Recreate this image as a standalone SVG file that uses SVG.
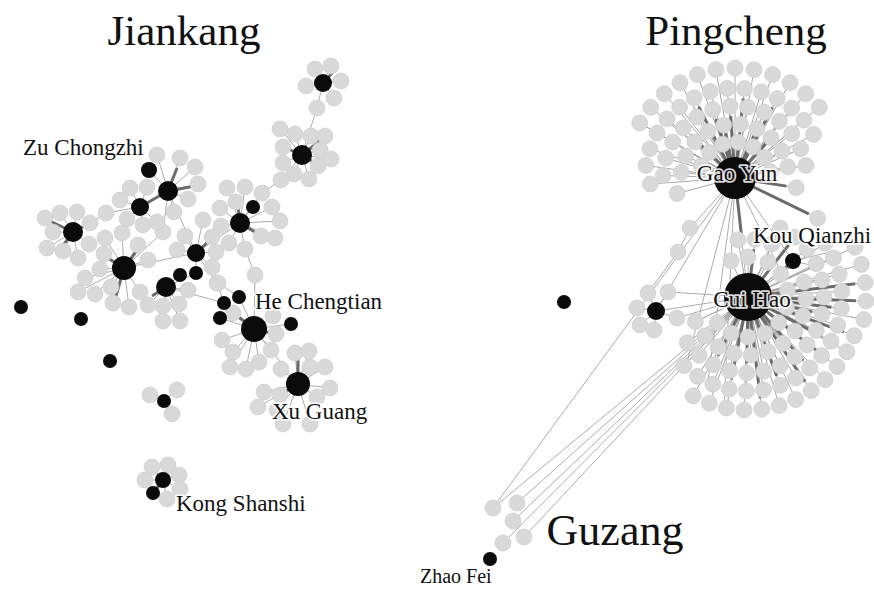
<svg xmlns="http://www.w3.org/2000/svg" width="874" height="589" viewBox="0 0 874 589">
<style>
.e{stroke:#a3a3a3;stroke-width:0.9;fill:none}
.t{stroke:#6b6b6b;stroke-width:3;fill:none}
.l{fill:#d9d9d9;stroke:#cdcdcd;stroke-width:0.6}
.h{fill:#0b0b0b}
.title{font-family:"Liberation Serif","Times New Roman",serif;fill:#111}
.lab{font-family:"Liberation Serif","Times New Roman",serif;font-size:23px;fill:#111;stroke:#fff;stroke-width:3.5;stroke-opacity:0.85;paint-order:stroke;stroke-linejoin:round}
</style>
<rect width="874" height="589" fill="#fff"/>

<g id="connectors">
 <path class="e" d="M323 83L315 69M323 83L331 66M323 83L341 81M323 83L334 98M323 83L306 86M323 83L317 108L302 155
 M302 155L280 129M302 155L295 134M302 155L311 136M302 155L325 136M302 155L320 150M302 155L331 159M302 155L318 166M302 155L309 179M302 155L294 174M302 155L283 163M302 155L283 147M302 155L281 180L262 193L240 223
 M240 223L227 188M240 223L245 187M240 223L272 207M240 223L280 221M240 223L275 238M240 223L261 236M240 223L245 249M240 223L229 243M240 223L221 226M240 223L220 208M240 223L236 202M240 223L253 207M245 249L255 275L254 329
 M168 191L180 158M168 191L195 167M168 191L198 184M168 191L188 199M168 191L174 212M168 191L157 155M149 170L168 191M168 191L163 232L124 268M168 191L196 253
 M140 207L147 187M140 207L130 188M140 207L120 200M140 207L127 219M140 207L143 225M140 207L157 222M140 207L106 213L90 223L73 232
 M73 232L45 218M73 232L60 213M73 232L77 212M73 232L53 232M73 232L47 248M73 232L63 251M73 232L89 244M73 232L78 258
 M124 268L105 238M124 268L122 233M124 268L138 245M124 268L104 254M124 268L100 269M124 268L85 278M124 268L78 292M124 268L95 294M124 268L111 287M124 268L113 303M124 268L129 307M124 268L140 292M124 268L148 260M124 268L196 253
 M166 287L148 305M166 287L163 306M166 287L179 304M166 287L163 321M166 287L180 321M166 287L188 290M166 287L180 275M166 287L196 273M166 287L224 303
 M196 253L203 220M196 253L185 236M196 253L177 250M196 253L212 237M196 253L216 252M196 253L212 267M196 253L217 283L224 303M196 253L240 223M196 253L196 273
 M254 329L233 313M254 329L222 340M254 329L233 352M254 329L230 367M254 329L246 369M254 329L259 362M254 329L271 350M254 329L276 334M254 329L273 316M224 303L254 329M239 297L254 329M220 318L254 329M254 329L291 324M254 329L298 384M218 283L239 297
 M298 384L281 369M298 384L264 392M298 384L280 395M298 384L277 410M298 384L310 367M298 384L325 367M298 384L330 388M298 384L317 397M298 384L295 353M298 384L309 351M298 384L258 407M298 384L283 424M298 384L310 424
 M164 401L150 395M164 401L177 390M164 401L172 414
 M163 480L152 467M163 480L168 465M163 480L179 475M163 480L145 480M163 480L180 489M163 480L167 499M163 480L153 493"/>
 <path class="t" d="M168 191L195 186M168 191L177 168M140 207L168 191M73 232L50 221M73 232L90 223M73 232L62 247M124 268L138 249M124 268L106 257M124 268L116 296M166 287L152 296M302 155L286 148M302 155L316 164M302 155L321 140M240 223L238 206M240 223L258 234M254 329L274 334M254 329L236 315M298 384L298 356M298 384L283 393M163 480L154 492M323 83L333 72M196 253L210 240"/>

 <g class="e" transform="translate(735,178)">
  <line x2="36" transform="rotate(-160)"/><line x2="36" transform="rotate(-135)"/><line x2="36" transform="rotate(-110)"/><line x2="36" transform="rotate(-85)"/><line x2="36" transform="rotate(-60)"/><line x2="36" transform="rotate(-35)"/><line x2="36" transform="rotate(-10)"/>
  <line x2="54" transform="rotate(-174)"/><line x2="54" transform="rotate(-156)"/><line x2="54" transform="rotate(-138)"/><line x2="54" transform="rotate(-120)"/><line x2="54" transform="rotate(-102)"/><line x2="54" transform="rotate(-84)"/><line x2="54" transform="rotate(-66)"/><line x2="54" transform="rotate(-48)"/><line x2="54" transform="rotate(-30)"/><line x2="54" transform="rotate(-12)"/>
  <line x2="72" transform="rotate(-178)"/><line x2="72" transform="rotate(-164)"/><line x2="72" transform="rotate(-150)"/><line x2="72" transform="rotate(-136)"/><line x2="72" transform="rotate(-122)"/><line x2="72" transform="rotate(-108)"/><line x2="72" transform="rotate(-94)"/><line x2="72" transform="rotate(-80)"/><line x2="72" transform="rotate(-66)"/><line x2="72" transform="rotate(-52)"/><line x2="72" transform="rotate(-38)"/><line x2="72" transform="rotate(-24)"/><line x2="72" transform="rotate(-10)"/>
  <line x2="90" transform="rotate(-172)"/><line x2="90" transform="rotate(-161)"/><line x2="90" transform="rotate(-150)"/><line x2="90" transform="rotate(-139)"/><line x2="90" transform="rotate(-128)"/><line x2="90" transform="rotate(-117)"/><line x2="90" transform="rotate(-106)"/><line x2="90" transform="rotate(-95)"/><line x2="90" transform="rotate(-84)"/><line x2="90" transform="rotate(-73)"/><line x2="90" transform="rotate(-62)"/><line x2="90" transform="rotate(-51)"/><line x2="90" transform="rotate(-40)"/><line x2="90" transform="rotate(-29)"/>
  <line x2="110" transform="rotate(-150)"/><line x2="110" transform="rotate(-140)"/><line x2="110" transform="rotate(-130)"/><line x2="110" transform="rotate(-120)"/><line x2="110" transform="rotate(-110)"/><line x2="110" transform="rotate(-100)"/><line x2="110" transform="rotate(-90)"/><line x2="110" transform="rotate(-80)"/><line x2="110" transform="rotate(-70)"/><line x2="110" transform="rotate(-60)"/><line x2="110" transform="rotate(-50)"/><line x2="110" transform="rotate(-40)"/>
  <line x2="60" transform="rotate(165)"/><line x2="85" transform="rotate(176)"/><line x2="62" transform="rotate(9)"/><line x2="92" transform="rotate(26)"/>
 </g>
 <g class="t" transform="translate(735,178)">
  <line x2="46" transform="rotate(-102)"/><line x2="62" transform="rotate(-108)"/><line x2="62" transform="rotate(-94)"/><line x2="80" transform="rotate(-84)"/><line x2="80" transform="rotate(-117)"/><line x2="80" transform="rotate(-62)"/><line x2="62" transform="rotate(-66)"/><line x2="62" transform="rotate(-136)"/><line x2="46" transform="rotate(-48)"/><line x2="82" transform="rotate(26)"/><line x2="52" transform="rotate(9)"/>
 </g>

 <g class="e" transform="translate(748,297)">
  <line x2="40" transform="rotate(-115)"/><line x2="40" transform="rotate(-90)"/><line x2="40" transform="rotate(-60)"/><line x2="40" transform="rotate(-35)"/><line x2="40" transform="rotate(-10)"/><line x2="40" transform="rotate(15)"/><line x2="40" transform="rotate(40)"/><line x2="40" transform="rotate(65)"/><line x2="40" transform="rotate(90)"/><line x2="40" transform="rotate(115)"/><line x2="40" transform="rotate(140)"/>
  <line x2="58" transform="rotate(-100)"/><line x2="58" transform="rotate(-83)"/><line x2="58" transform="rotate(-66)"/><line x2="58" transform="rotate(-15)"/><line x2="58" transform="rotate(2)"/><line x2="58" transform="rotate(19)"/><line x2="58" transform="rotate(36)"/><line x2="58" transform="rotate(53)"/><line x2="58" transform="rotate(70)"/><line x2="58" transform="rotate(87)"/><line x2="58" transform="rotate(104)"/><line x2="58" transform="rotate(121)"/><line x2="58" transform="rotate(138)"/><line x2="58" transform="rotate(155)"/>
  <line x2="76" transform="rotate(-65)"/><line x2="76" transform="rotate(-52)"/><line x2="76" transform="rotate(-39)"/><line x2="76" transform="rotate(-26)"/><line x2="76" transform="rotate(-13)"/><line x2="76" transform="rotate(0)"/><line x2="76" transform="rotate(13)"/><line x2="76" transform="rotate(26)"/><line x2="76" transform="rotate(39)"/><line x2="76" transform="rotate(52)"/><line x2="76" transform="rotate(65)"/><line x2="76" transform="rotate(78)"/><line x2="76" transform="rotate(91)"/><line x2="76" transform="rotate(104)"/><line x2="76" transform="rotate(117)"/><line x2="76" transform="rotate(130)"/><line x2="76" transform="rotate(143)"/>
  <line x2="94" transform="rotate(-35)"/><line x2="94" transform="rotate(-24.5)"/><line x2="94" transform="rotate(-14)"/><line x2="94" transform="rotate(-3.5)"/><line x2="94" transform="rotate(7)"/><line x2="94" transform="rotate(17.5)"/><line x2="94" transform="rotate(28)"/><line x2="94" transform="rotate(38.5)"/><line x2="94" transform="rotate(49)"/><line x2="94" transform="rotate(59.5)"/><line x2="94" transform="rotate(70)"/><line x2="94" transform="rotate(80.5)"/><line x2="94" transform="rotate(91)"/><line x2="94" transform="rotate(101.5)"/><line x2="94" transform="rotate(112)"/><line x2="94" transform="rotate(122.5)"/><line x2="94" transform="rotate(133)"/>
  <line x2="118" transform="rotate(-25)"/><line x2="118" transform="rotate(-16)"/><line x2="118" transform="rotate(-7)"/><line x2="118" transform="rotate(2)"/><line x2="118" transform="rotate(11)"/><line x2="113" transform="rotate(20)"/><line x2="113" transform="rotate(29)"/><line x2="113" transform="rotate(38)"/><line x2="113" transform="rotate(47)"/><line x2="113" transform="rotate(56)"/><line x2="113" transform="rotate(65)"/><line x2="113" transform="rotate(74)"/><line x2="113" transform="rotate(83)"/><line x2="113" transform="rotate(92)"/><line x2="113" transform="rotate(101)"/><line x2="113" transform="rotate(110)"/><line x2="113" transform="rotate(119)"/>
 </g>
 <g class="t" transform="translate(748,297)">
  <line x2="108" transform="rotate(2)"/><line x2="108" transform="rotate(-7)"/><line x2="84" transform="rotate(7)"/><line x2="84" transform="rotate(28)"/><line x2="102" transform="rotate(38)"/><line x2="84" transform="rotate(49)"/><line x2="102" transform="rotate(56)"/><line x2="84" transform="rotate(70)"/><line x2="102" transform="rotate(83)"/><line x2="66" transform="rotate(91)"/><line x2="84" transform="rotate(101.5)"/><line x2="66" transform="rotate(117)"/><line x2="48" transform="rotate(-83)"/><line x2="66" transform="rotate(-52)"/><line x2="66" transform="rotate(13)"/><line x2="102" transform="rotate(20)"/>
 </g>

 <path class="e" d="M735 178L748 297M735 178L690 228L678 252L648 293M735 178L656 311M735 178L793 261L748 297M735 178L686 366M735 178L708 380M735 178L724 406M735 178L780 270M656 311L748 297M668 292L748 297M677 318L748 297M656 311L648 293M656 311L668 292M656 311L637 308M656 311L640 325M656 311L654 330M656 311L677 318M793 261L823 268M793 261L830 252
 M493 508L735 178M493 508L748 297M517 503L748 297M513 521L748 297M503 543L748 297M524 537L748 297"/>
 <path class="t" d="M735 178L742 240M793 261L776 276"/>
</g>

<g id="jiankang-nodes">
 <g id="cluster-a"><circle class="l" r="8" cx="315" cy="69"/><circle class="l" r="8" cx="331" cy="66"/><circle class="l" r="8" cx="341" cy="81"/><circle class="l" r="8" cx="334" cy="98"/><circle class="l" r="8" cx="306" cy="86"/><circle class="l" r="8" cx="317" cy="108"/><g id="hub-a"><circle class="h" r="9" cx="323" cy="83"/></g></g>
 <g id="cluster-b"><circle class="l" r="8" cx="280" cy="129"/><circle class="l" r="8" cx="295" cy="134"/><circle class="l" r="8" cx="311" cy="136"/><circle class="l" r="8" cx="325" cy="136"/><circle class="l" r="8" cx="320" cy="150"/><circle class="l" r="8" cx="331" cy="159"/><circle class="l" r="8" cx="318" cy="166"/><circle class="l" r="8" cx="309" cy="179"/><circle class="l" r="8" cx="294" cy="174"/><circle class="l" r="8" cx="283" cy="163"/><circle class="l" r="8" cx="283" cy="147"/><circle class="l" r="8" cx="281" cy="180"/><g id="hub-b"><circle class="h" r="10" cx="302" cy="155"/></g></g>
 <g id="cluster-c"><circle class="l" r="8" cx="227" cy="188"/><circle class="l" r="8" cx="245" cy="187"/><circle class="l" r="8" cx="262" cy="193"/><circle class="l" r="8" cx="272" cy="207"/><circle class="l" r="8" cx="280" cy="221"/><circle class="l" r="8" cx="275" cy="238"/><circle class="l" r="8" cx="261" cy="236"/><circle class="l" r="8" cx="245" cy="249"/><circle class="l" r="8" cx="229" cy="243"/><circle class="l" r="8" cx="221" cy="226"/><circle class="l" r="8" cx="220" cy="208"/><circle class="l" r="8" cx="236" cy="202"/><circle class="l" r="8" cx="255" cy="275"/><g id="hub-c"><circle class="h" r="10" cx="240" cy="223"/></g><g id="hub-c2"><circle class="h" r="7" cx="253" cy="207"/></g></g>
 <g id="cluster-d"><circle class="l" r="8" cx="157" cy="155"/><circle class="l" r="8" cx="180" cy="158"/><circle class="l" r="8" cx="195" cy="167"/><circle class="l" r="8" cx="198" cy="184"/><circle class="l" r="8" cx="188" cy="199"/><circle class="l" r="8" cx="174" cy="212"/><circle class="l" r="8" cx="163" cy="232"/><g id="hub-d"><circle class="h" r="10" cx="168" cy="191"/></g><g id="zu-chongzhi"><circle class="h" r="8" cx="149" cy="170"/></g></g>
 <g id="cluster-e"><circle class="l" r="8" cx="147" cy="187"/><circle class="l" r="8" cx="130" cy="188"/><circle class="l" r="8" cx="120" cy="200"/><circle class="l" r="8" cx="127" cy="219"/><circle class="l" r="8" cx="143" cy="225"/><circle class="l" r="8" cx="157" cy="222"/><circle class="l" r="8" cx="106" cy="213"/><g id="hub-e"><circle class="h" r="9" cx="140" cy="207"/></g></g>
 <g id="cluster-f"><circle class="l" r="8" cx="45" cy="218"/><circle class="l" r="8" cx="60" cy="213"/><circle class="l" r="8" cx="77" cy="212"/><circle class="l" r="8" cx="53" cy="232"/><circle class="l" r="8" cx="47" cy="248"/><circle class="l" r="8" cx="63" cy="251"/><circle class="l" r="8" cx="90" cy="223"/><circle class="l" r="8" cx="89" cy="244"/><circle class="l" r="8" cx="78" cy="258"/><g id="hub-f"><circle class="h" r="10" cx="73" cy="232"/></g></g>
 <g id="cluster-g"><circle class="l" r="8" cx="105" cy="238"/><circle class="l" r="8" cx="122" cy="233"/><circle class="l" r="8" cx="138" cy="245"/><circle class="l" r="8" cx="104" cy="254"/><circle class="l" r="8" cx="100" cy="269"/><circle class="l" r="8" cx="85" cy="278"/><circle class="l" r="8" cx="78" cy="292"/><circle class="l" r="8" cx="95" cy="294"/><circle class="l" r="8" cx="111" cy="287"/><circle class="l" r="8" cx="113" cy="303"/><circle class="l" r="8" cx="129" cy="307"/><circle class="l" r="8" cx="140" cy="292"/><circle class="l" r="8" cx="148" cy="260"/><g id="hub-g"><circle class="h" r="12" cx="124" cy="268"/></g></g>
 <g id="cluster-h"><circle class="l" r="8" cx="148" cy="305"/><circle class="l" r="8" cx="163" cy="306"/><circle class="l" r="8" cx="179" cy="304"/><circle class="l" r="8" cx="163" cy="321"/><circle class="l" r="8" cx="180" cy="321"/><circle class="l" r="8" cx="188" cy="290"/><g id="hub-h"><circle class="h" r="10" cx="166" cy="287"/></g><g id="hub-h2"><circle class="h" r="7" cx="180" cy="275"/></g><g id="hub-h3"><circle class="h" r="7" cx="196" cy="273"/></g></g>
 <g id="cluster-i"><circle class="l" r="8" cx="203" cy="220"/><circle class="l" r="8" cx="185" cy="236"/><circle class="l" r="8" cx="177" cy="250"/><circle class="l" r="8" cx="212" cy="237"/><circle class="l" r="8" cx="216" cy="252"/><circle class="l" r="8" cx="212" cy="267"/><circle class="l" r="8" cx="217" cy="283"/><g id="hub-i"><circle class="h" r="9" cx="196" cy="253"/></g></g>
 <g id="cluster-he"><circle class="l" r="8" cx="218" cy="283"/><circle class="l" r="8" cx="233" cy="313"/><circle class="l" r="8" cx="222" cy="340"/><circle class="l" r="8" cx="233" cy="352"/><circle class="l" r="8" cx="230" cy="367"/><circle class="l" r="8" cx="246" cy="369"/><circle class="l" r="8" cx="259" cy="362"/><circle class="l" r="8" cx="271" cy="350"/><circle class="l" r="8" cx="276" cy="334"/><circle class="l" r="8" cx="273" cy="316"/><g id="b1"><circle class="h" r="7" cx="224" cy="303"/></g><g id="b2"><circle class="h" r="7" cx="239" cy="297"/></g><g id="b3"><circle class="h" r="7" cx="220" cy="318"/></g><g id="b4"><circle class="h" r="7" cx="291" cy="324"/></g><g id="he-chengtian"><circle class="h" r="13" cx="254" cy="329"/></g></g>
 <g id="cluster-xu"><circle class="l" r="8" cx="281" cy="369"/><circle class="l" r="8" cx="264" cy="392"/><circle class="l" r="8" cx="280" cy="395"/><circle class="l" r="8" cx="277" cy="410"/><circle class="l" r="8" cx="310" cy="367"/><circle class="l" r="8" cx="325" cy="367"/><circle class="l" r="8" cx="330" cy="388"/><circle class="l" r="8" cx="317" cy="397"/><circle class="l" r="8" cx="295" cy="353"/><circle class="l" r="8" cx="309" cy="351"/><circle class="l" r="8" cx="258" cy="407"/><circle class="l" r="8" cx="283" cy="424"/><circle class="l" r="8" cx="310" cy="424"/><g id="xu-guang"><circle class="h" r="12" cx="298" cy="384"/></g></g>
 <g id="iso-1"><circle class="h" r="7" cx="21" cy="307"/></g>
 <g id="iso-2"><circle class="h" r="7" cx="81" cy="319"/></g>
 <g id="iso-3"><circle class="h" r="7" cx="110" cy="361"/></g>
 <g id="cluster-small"><circle class="l" r="8" cx="150" cy="395"/><circle class="l" r="8" cx="177" cy="390"/><circle class="l" r="8" cx="172" cy="414"/><g id="hub-small"><circle class="h" r="7" cx="164" cy="401"/></g></g>
 <g id="cluster-kong"><circle class="l" r="8" cx="152" cy="467"/><circle class="l" r="8" cx="168" cy="465"/><circle class="l" r="8" cx="179" cy="475"/><circle class="l" r="8" cx="145" cy="480"/><circle class="l" r="8" cx="180" cy="489"/><circle class="l" r="8" cx="167" cy="499"/><g id="kong-shanshi"><circle class="h" r="8" cx="163" cy="480"/></g><g id="kong-2"><circle class="h" r="7" cx="153" cy="493"/></g></g>
</g>

<g id="pingcheng-nodes">
 <g id="gaoyun-leaves" class="l" transform="translate(735,178)">
  <circle r="8" cx="36" transform="rotate(-160)"/><circle r="8" cx="36" transform="rotate(-135)"/><circle r="8" cx="36" transform="rotate(-110)"/><circle r="8" cx="36" transform="rotate(-85)"/><circle r="8" cx="36" transform="rotate(-60)"/><circle r="8" cx="36" transform="rotate(-35)"/><circle r="8" cx="36" transform="rotate(-10)"/>
  <circle r="8" cx="54" transform="rotate(-174)"/><circle r="8" cx="54" transform="rotate(-156)"/><circle r="8" cx="54" transform="rotate(-138)"/><circle r="8" cx="54" transform="rotate(-120)"/><circle r="8" cx="54" transform="rotate(-102)"/><circle r="8" cx="54" transform="rotate(-84)"/><circle r="8" cx="54" transform="rotate(-66)"/><circle r="8" cx="54" transform="rotate(-48)"/><circle r="8" cx="54" transform="rotate(-30)"/><circle r="8" cx="54" transform="rotate(-12)"/>
  <circle r="8" cx="72" transform="rotate(-178)"/><circle r="8" cx="72" transform="rotate(-164)"/><circle r="8" cx="72" transform="rotate(-150)"/><circle r="8" cx="72" transform="rotate(-136)"/><circle r="8" cx="72" transform="rotate(-122)"/><circle r="8" cx="72" transform="rotate(-108)"/><circle r="8" cx="72" transform="rotate(-94)"/><circle r="8" cx="72" transform="rotate(-80)"/><circle r="8" cx="72" transform="rotate(-66)"/><circle r="8" cx="72" transform="rotate(-52)"/><circle r="8" cx="72" transform="rotate(-38)"/><circle r="8" cx="72" transform="rotate(-24)"/><circle r="8" cx="72" transform="rotate(-10)"/>
  <circle r="8" cx="90" transform="rotate(-172)"/><circle r="8" cx="90" transform="rotate(-161)"/><circle r="8" cx="90" transform="rotate(-150)"/><circle r="8" cx="90" transform="rotate(-139)"/><circle r="8" cx="90" transform="rotate(-128)"/><circle r="8" cx="90" transform="rotate(-117)"/><circle r="8" cx="90" transform="rotate(-106)"/><circle r="8" cx="90" transform="rotate(-95)"/><circle r="8" cx="90" transform="rotate(-84)"/><circle r="8" cx="90" transform="rotate(-73)"/><circle r="8" cx="90" transform="rotate(-62)"/><circle r="8" cx="90" transform="rotate(-51)"/><circle r="8" cx="90" transform="rotate(-40)"/><circle r="8" cx="90" transform="rotate(-29)"/>
  <circle r="8" cx="110" transform="rotate(-150)"/><circle r="8" cx="110" transform="rotate(-140)"/><circle r="8" cx="110" transform="rotate(-130)"/><circle r="8" cx="110" transform="rotate(-120)"/><circle r="8" cx="110" transform="rotate(-110)"/><circle r="8" cx="110" transform="rotate(-100)"/><circle r="8" cx="110" transform="rotate(-90)"/><circle r="8" cx="110" transform="rotate(-80)"/><circle r="8" cx="110" transform="rotate(-70)"/><circle r="8" cx="110" transform="rotate(-60)"/><circle r="8" cx="110" transform="rotate(-50)"/><circle r="8" cx="110" transform="rotate(-40)"/>
  <circle r="8" cx="60" transform="rotate(165)"/><circle r="8" cx="85" transform="rotate(176)"/><circle r="8" cx="62" transform="rotate(9)"/><circle r="8" cx="92" transform="rotate(26)"/>
 </g>
 <g id="cuihao-leaves" class="l" transform="translate(748,297)">
  <circle r="8" cx="40" transform="rotate(-115)"/><circle r="8" cx="40" transform="rotate(-90)"/><circle r="8" cx="40" transform="rotate(-60)"/><circle r="8" cx="40" transform="rotate(-35)"/><circle r="8" cx="40" transform="rotate(-10)"/><circle r="8" cx="40" transform="rotate(15)"/><circle r="8" cx="40" transform="rotate(40)"/><circle r="8" cx="40" transform="rotate(65)"/><circle r="8" cx="40" transform="rotate(90)"/><circle r="8" cx="40" transform="rotate(115)"/><circle r="8" cx="40" transform="rotate(140)"/>
  <circle r="8" cx="58" transform="rotate(-100)"/><circle r="8" cx="58" transform="rotate(-83)"/><circle r="8" cx="58" transform="rotate(-66)"/><circle r="8" cx="58" transform="rotate(-15)"/><circle r="8" cx="58" transform="rotate(2)"/><circle r="8" cx="58" transform="rotate(19)"/><circle r="8" cx="58" transform="rotate(36)"/><circle r="8" cx="58" transform="rotate(53)"/><circle r="8" cx="58" transform="rotate(70)"/><circle r="8" cx="58" transform="rotate(87)"/><circle r="8" cx="58" transform="rotate(104)"/><circle r="8" cx="58" transform="rotate(121)"/><circle r="8" cx="58" transform="rotate(138)"/><circle r="8" cx="58" transform="rotate(155)"/>
  <circle r="8" cx="76" transform="rotate(-65)"/><circle r="8" cx="76" transform="rotate(-52)"/><circle r="8" cx="76" transform="rotate(-39)"/><circle r="8" cx="76" transform="rotate(-26)"/><circle r="8" cx="76" transform="rotate(-13)"/><circle r="8" cx="76" transform="rotate(0)"/><circle r="8" cx="76" transform="rotate(13)"/><circle r="8" cx="76" transform="rotate(26)"/><circle r="8" cx="76" transform="rotate(39)"/><circle r="8" cx="76" transform="rotate(52)"/><circle r="8" cx="76" transform="rotate(65)"/><circle r="8" cx="76" transform="rotate(78)"/><circle r="8" cx="76" transform="rotate(91)"/><circle r="8" cx="76" transform="rotate(104)"/><circle r="8" cx="76" transform="rotate(117)"/><circle r="8" cx="76" transform="rotate(130)"/><circle r="8" cx="76" transform="rotate(143)"/>
  <circle r="8" cx="94" transform="rotate(-35)"/><circle r="8" cx="94" transform="rotate(-24.5)"/><circle r="8" cx="94" transform="rotate(-14)"/><circle r="8" cx="94" transform="rotate(-3.5)"/><circle r="8" cx="94" transform="rotate(7)"/><circle r="8" cx="94" transform="rotate(17.5)"/><circle r="8" cx="94" transform="rotate(28)"/><circle r="8" cx="94" transform="rotate(38.5)"/><circle r="8" cx="94" transform="rotate(49)"/><circle r="8" cx="94" transform="rotate(59.5)"/><circle r="8" cx="94" transform="rotate(70)"/><circle r="8" cx="94" transform="rotate(80.5)"/><circle r="8" cx="94" transform="rotate(91)"/><circle r="8" cx="94" transform="rotate(101.5)"/><circle r="8" cx="94" transform="rotate(112)"/><circle r="8" cx="94" transform="rotate(122.5)"/><circle r="8" cx="94" transform="rotate(133)"/>
  <circle r="8" cx="118" transform="rotate(-25)"/><circle r="8" cx="118" transform="rotate(-16)"/><circle r="8" cx="118" transform="rotate(-7)"/><circle r="8" cx="118" transform="rotate(2)"/><circle r="8" cx="118" transform="rotate(11)"/><circle r="8" cx="113" transform="rotate(20)"/><circle r="8" cx="113" transform="rotate(29)"/><circle r="8" cx="113" transform="rotate(38)"/><circle r="8" cx="113" transform="rotate(47)"/><circle r="8" cx="113" transform="rotate(56)"/><circle r="8" cx="113" transform="rotate(65)"/><circle r="8" cx="113" transform="rotate(74)"/><circle r="8" cx="113" transform="rotate(83)"/><circle r="8" cx="113" transform="rotate(92)"/><circle r="8" cx="113" transform="rotate(101)"/><circle r="8" cx="113" transform="rotate(110)"/><circle r="8" cx="113" transform="rotate(119)"/>
 </g>
 <g id="link-nodes"><circle class="l" r="8" cx="690" cy="228"/><circle class="l" r="8" cx="678" cy="252"/></g>
 <g id="cluster-west"><circle class="l" r="8" cx="648" cy="293"/><circle class="l" r="8" cx="668" cy="292"/><circle class="l" r="8" cx="637" cy="308"/><circle class="l" r="8" cx="640" cy="325"/><circle class="l" r="8" cx="654" cy="330"/><circle class="l" r="8" cx="677" cy="318"/><g id="hub-west"><circle class="h" r="9" cx="656" cy="311"/></g></g>
 <g id="iso-4"><circle class="h" r="7" cx="564" cy="302"/></g>
 <g id="gao-yun"><circle class="h" r="21" cx="735" cy="178"/></g>
 <g id="cui-hao"><circle class="h" r="24" cx="748" cy="297"/></g>
 <g id="kou-qianzhi"><circle class="h" r="8" cx="793" cy="261"/></g>
 <g id="guzang-nodes"><circle class="l" r="8" cx="493" cy="508"/><circle class="l" r="8" cx="517" cy="503"/><circle class="l" r="8" cx="513" cy="521"/><circle class="l" r="8" cx="503" cy="543"/><circle class="l" r="8" cx="524" cy="537"/></g>
 <g id="zhao-fei"><circle class="h" r="7" cx="490" cy="559"/></g>
</g>

<g id="labels">
 <text class="title" x="184" y="45" font-size="43" text-anchor="middle">Jiankang</text>
 <text class="title" x="736" y="45" font-size="43" text-anchor="middle">Pingcheng</text>
 <text class="title" x="615" y="545" font-size="44" text-anchor="middle">Guzang</text>
 <text class="lab" x="23" y="155">Zu Chongzhi</text>
 <text class="lab" x="255" y="309" font-size="24">He Chengtian</text>
 <text class="lab" x="272" y="419">Xu Guang</text>
 <text class="lab" x="176" y="511">Kong Shanshi</text>
 <text class="lab" x="737" y="181" text-anchor="middle">Gao Yun</text>
 <text class="lab" x="753" y="243">Kou Qianzhi</text>
 <text class="lab" x="752" y="307" text-anchor="middle">Cui Hao</text>
 <text class="lab" x="420" y="583" style="font-size:20px">Zhao Fei</text>
</g>
</svg>
